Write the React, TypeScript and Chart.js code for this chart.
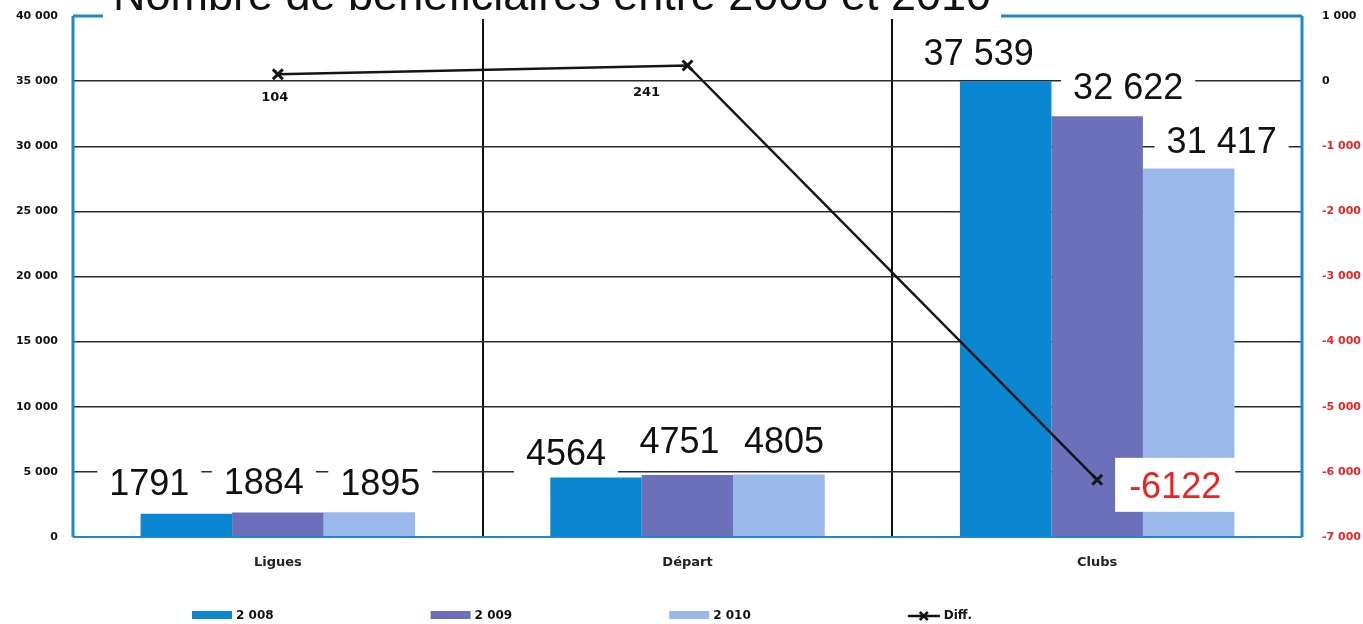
import React, { useEffect, useRef } from "react";
import { Chart, registerables } from "chart.js";
Chart.register(...registerables);

// ---------- data ----------
const title = "Nombre de bénéficiaires entre 2008 et 2010";
const categories = ["Ligues", "Départ", "Clubs"];
const seriesNames = ["2 008", "2 009", "2 010"];
const diffName = "Diff.";
// bar heights as drawn in the picture
const values2008 = [1791, 4564, 35000];
const values2009 = [1884, 4751, 32300];
const values2010 = [1895, 4805, 28300];
// value labels printed on the picture
const labels2008 = ["1791", "4564", "37 539"];
const labels2009 = ["1884", "4751", "32 622"];
const labels2010 = ["1895", "4805", "31 417"];
const diffValues = [104, 241, -6122];
const diffLabels = ["104", "241", "-6122"];
const leftMin = 0;
const leftMax = 40000;
const leftStep = 5000;
const rightMin = -7000;
const rightMax = 1000;
const rightStep = 1000;

// ---------- style ----------
const colors = ["#0b87d1", "#6c70ba", "#9ab8ea"];
const frameBlue = "#1e88d0";
const red = "#ee2222";
const labelFont = "36px 'Liberation Sans', Arial, sans-serif";
const tickFont = { family: "'DejaVu Sans', Verdana, sans-serif", weight: "bold" as const, size: 11 };
// label nudges [dx from bar centre, dy baseline from bar top]
const barLabelNudges = [
  [[-37, -19], [-30, -13], [-27, -16]],
  [[-14, -18], [-8, -22], [31, -17]],
  [[11, -17], [5, -21], [33, -15]],
];
// diff label nudges [dx, dy] from point
const diffLabelNudges = [[-3, 28], [-41, 32], [78, 18]];

const fmt = (v: number) => {
  const n = Math.abs(v);
  const s = n >= 1000 ? Math.floor(n / 1000) + " " + String(n % 1000).padStart(3, "0") : String(n);
  return (v < 0 ? "-" : "") + s;
};

function boxedText(ctx: CanvasRenderingContext2D, text: string, cx: number, baseline: number, color: string, padX: number, padY: number) {
  ctx.save();
  ctx.font = labelFont;
  const w = ctx.measureText(text).width;
  const h = 26;
  ctx.fillStyle = "#ffffff";
  ctx.fillRect(cx - w / 2 - padX, baseline - h - padY, w + 2 * padX, h + 2 * padY);
  ctx.fillStyle = color;
  ctx.textAlign = "center";
  ctx.textBaseline = "alphabetic";
  ctx.fillText(text, cx, baseline);
  ctx.restore();
}

const overlay = {
  id: "overlay",
  afterDatasetsDraw(chart: any) {
    const ctx: CanvasRenderingContext2D = chart.ctx;
    const { left, right, top, bottom } = chart.chartArea;
    // frame
    ctx.save();
    ctx.strokeStyle = frameBlue;
    ctx.lineWidth = 3;
    ctx.beginPath();
    ctx.moveTo(left, top);
    ctx.lineTo(left, bottom);
    ctx.moveTo(right, top);
    ctx.lineTo(right, bottom);
    ctx.moveTo(left, top);
    ctx.lineTo(right, top);
    ctx.stroke();
    ctx.lineWidth = 2;
    ctx.beginPath();
    ctx.moveTo(left, bottom);
    ctx.lineTo(right, bottom);
    ctx.stroke();
    ctx.restore();

    // bar labels
    const labelSets = [labels2008, labels2009, labels2010];
    for (let s = 0; s < 3; s++) {
      const meta = chart.getDatasetMeta(s + 1);
      meta.data.forEach((bar: any, i: number) => {
        const [dx, dy] = barLabelNudges[s][i];
        boxedText(ctx, labelSets[s][i], bar.x + dx, bar.y + dy, "#111111", 12, 10);
      });
    }

    // diff labels
    const lmeta = chart.getDatasetMeta(0);
    lmeta.data.forEach((pt: any, i: number) => {
      const [dx, dy] = diffLabelNudges[i];
      if (diffValues[i] < 0) {
        boxedText(ctx, diffLabels[i], pt.x + dx, pt.y + dy, red, 14, 14);
      } else {
        ctx.save();
        ctx.font = "bold 13px 'DejaVu Sans', Verdana, sans-serif";
        ctx.fillStyle = "#111";
        ctx.textAlign = "center";
        ctx.textBaseline = "middle";
        ctx.fillText(diffLabels[i], pt.x + dx, pt.y + dy - 5);
        ctx.restore();
      }
    });

    // title (partly outside the canvas)
    ctx.save();
    ctx.font = "45px 'Liberation Sans', Arial, sans-serif";
    const tw = ctx.measureText(title).width;
    const tx = 552;
    ctx.fillStyle = "#ffffff";
    ctx.fillRect(tx - tw / 2 - 10, 0, tw + 20, 19);
    ctx.fillStyle = "#111";
    ctx.textAlign = "center";
    ctx.textBaseline = "alphabetic";
    ctx.fillText(title, tx, 10);
    ctx.restore();

    // legend
    ctx.save();
    const ly = 615;
    ctx.font = "bold 12px 'DejaVu Sans', Verdana, sans-serif";
    ctx.textBaseline = "middle";
    ctx.textAlign = "left";
    for (let s = 0; s < 4; s++) {
      const x0 = 192 + s * 238.6;
      if (s < 3) {
        ctx.fillStyle = colors[s];
        ctx.fillRect(x0, ly - 4, 40, 8);
        ctx.fillStyle = "#111";
        ctx.fillText(seriesNames[s], x0 + 44, ly + 1);
      } else {
        ctx.strokeStyle = "#111";
        ctx.lineWidth = 2.5;
        ctx.beginPath();
        ctx.moveTo(x0, ly + 1);
        ctx.lineTo(x0 + 32, ly + 1);
        ctx.stroke();
        ctx.beginPath();
        ctx.moveTo(x0 + 12, ly - 3);
        ctx.lineTo(x0 + 20, ly + 5);
        ctx.moveTo(x0 + 20, ly - 3);
        ctx.lineTo(x0 + 12, ly + 5);
        ctx.stroke();
        ctx.fillStyle = "#111";
        ctx.fillText(diffName, x0 + 36, ly + 1);
      }
    }
    ctx.restore();
  },
};

export default function App() {
  const ref = useRef<HTMLCanvasElement | null>(null);
  useEffect(() => {
    if (!ref.current) return;
    const chart = new Chart(ref.current, {
      type: "bar",
      data: {
        labels: categories,
        datasets: [
          {
            type: "line",
            label: diffName,
            data: diffValues,
            yAxisID: "y2",
            borderColor: "#151515",
            borderWidth: 2.5,
            pointStyle: "crossRot",
            pointRadius: 7,
            pointBorderWidth: 3,
            pointBorderColor: "#151515",
            pointBackgroundColor: "#151515",
            tension: 0,
            order: 0,
          } as any,
          ...[values2008, values2009, values2010].map((d, s) => ({
            type: "bar" as const,
            label: seriesNames[s],
            data: d,
            yAxisID: "y",
            backgroundColor: colors[s],
            borderWidth: 0,
            categoryPercentage: 0.67,
            barPercentage: 1,
            order: 1,
          })),
        ],
      },
      options: {
        responsive: false,
        animation: false,
        layout: { padding: { top: 16, left: 0, right: 0, bottom: 0 } },
        plugins: { legend: { display: false }, tooltip: { enabled: false }, title: { display: false } },
        scales: {
          x: {
            offset: true,
            grid: { offset: true, color: "#111", lineWidth: 2, drawTicks: false },
            border: { display: false },
            ticks: {
              font: { family: "'DejaVu Sans', Verdana, sans-serif", weight: "bold", size: 13 },
              color: "#222",
              padding: 18,
              maxRotation: 0,
              autoSkip: false,
            },
            afterFit(s: any) {
              s.height = 87;
              s.paddingLeft = 0;
              s.paddingRight = 0;
            },
          },
          y: {
            position: "left",
            min: leftMin,
            max: leftMax,
            ticks: { stepSize: leftStep, callback: (v: any) => fmt(Number(v)), font: tickFont, color: "#111", padding: 15 },
            grid: { color: "#2b2b2b", lineWidth: 1.5, drawTicks: false },
            border: { display: false },
            afterFit(s: any) {
              s.width = 73;
              s.paddingTop = 0;
              s.paddingBottom = 0;
            },
          },
          y2: {
            position: "right",
            min: rightMin,
            max: rightMax,
            ticks: {
              stepSize: rightStep,
              callback: (v: any) => fmt(Number(v)),
              font: tickFont,
              color: (c: any) => (c.tick && c.tick.value < 0 ? red : "#111"),
              padding: 20,
            },
            grid: { display: false, drawTicks: false },
            border: { display: false },
            afterFit(s: any) {
              s.width = 61;
              s.paddingTop = 0;
              s.paddingBottom = 0;
            },
          },
        },
      } as any,
      plugins: [overlay],
    });
    return () => chart.destroy();
  }, []);
  return (
    <div style={{ position: "absolute", left: 0, top: 0, width: 1363, height: 624, background: "#fff" }}>
      <canvas ref={ref} width={1363} height={624} style={{ display: "block" }} />
    </div>
  );
}
